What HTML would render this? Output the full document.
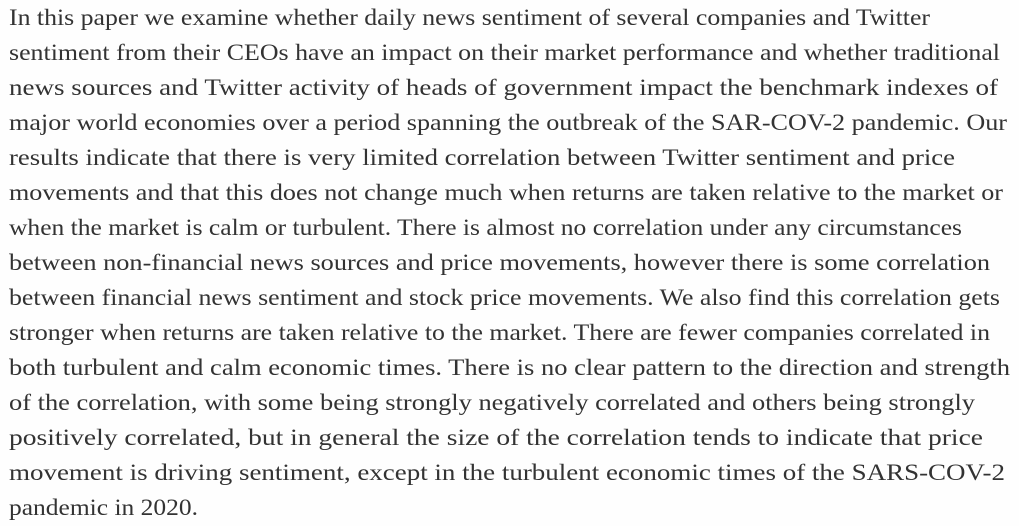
<!DOCTYPE html>
<html><head><meta charset="utf-8"><style>
html,body{margin:0;padding:0;background:#fefefe;}
svg{display:block;}
text{font-family:"Liberation Serif","DejaVu Serif",serif;font-size:23px;fill:#333;}
</style></head><body>
<svg width="1019" height="526">
<text x="9" y="25" textLength="921" lengthAdjust="spacingAndGlyphs">In this paper we examine whether daily news sentiment of several companies and Twitter</text>
<text x="9" y="60" textLength="991" lengthAdjust="spacingAndGlyphs">sentiment from their CEOs have an impact on their market performance and whether traditional</text>
<text x="9" y="95" textLength="989" lengthAdjust="spacingAndGlyphs">news sources and Twitter activity of heads of government impact the benchmark indexes of</text>
<text x="9" y="130" textLength="998" lengthAdjust="spacingAndGlyphs">major world economies over a period spanning the outbreak of the SAR-COV-2 pandemic. Our</text>
<text x="9" y="165" textLength="946" lengthAdjust="spacingAndGlyphs">results indicate that there is very limited correlation between Twitter sentiment and price</text>
<text x="9" y="200" textLength="994" lengthAdjust="spacingAndGlyphs">movements and that this does not change much when returns are taken relative to the market or</text>
<text x="9" y="235" textLength="953" lengthAdjust="spacingAndGlyphs">when the market is calm or turbulent. There is almost no correlation under any circumstances</text>
<text x="9" y="270" textLength="981" lengthAdjust="spacingAndGlyphs">between non-financial news sources and price movements, however there is some correlation</text>
<text x="9" y="305" textLength="991" lengthAdjust="spacingAndGlyphs">between financial news sentiment and stock price movements. We also find this correlation gets</text>
<text x="9" y="340" textLength="981" lengthAdjust="spacingAndGlyphs">stronger when returns are taken relative to the market. There are fewer companies correlated in</text>
<text x="9" y="375" textLength="1001" lengthAdjust="spacingAndGlyphs">both turbulent and calm economic times. There is no clear pattern to the direction and strength</text>
<text x="9" y="410" textLength="966" lengthAdjust="spacingAndGlyphs">of the correlation, with some being strongly negatively correlated and others being strongly</text>
<text x="9" y="445" textLength="974" lengthAdjust="spacingAndGlyphs">positively correlated, but in general the size of the correlation tends to indicate that price</text>
<text x="9" y="480" textLength="996" lengthAdjust="spacingAndGlyphs">movement is driving sentiment, except in the turbulent economic times of the SARS-COV-2</text>
<text x="9" y="515" textLength="189" lengthAdjust="spacingAndGlyphs">pandemic in 2020.</text>
</svg>
</body></html>
